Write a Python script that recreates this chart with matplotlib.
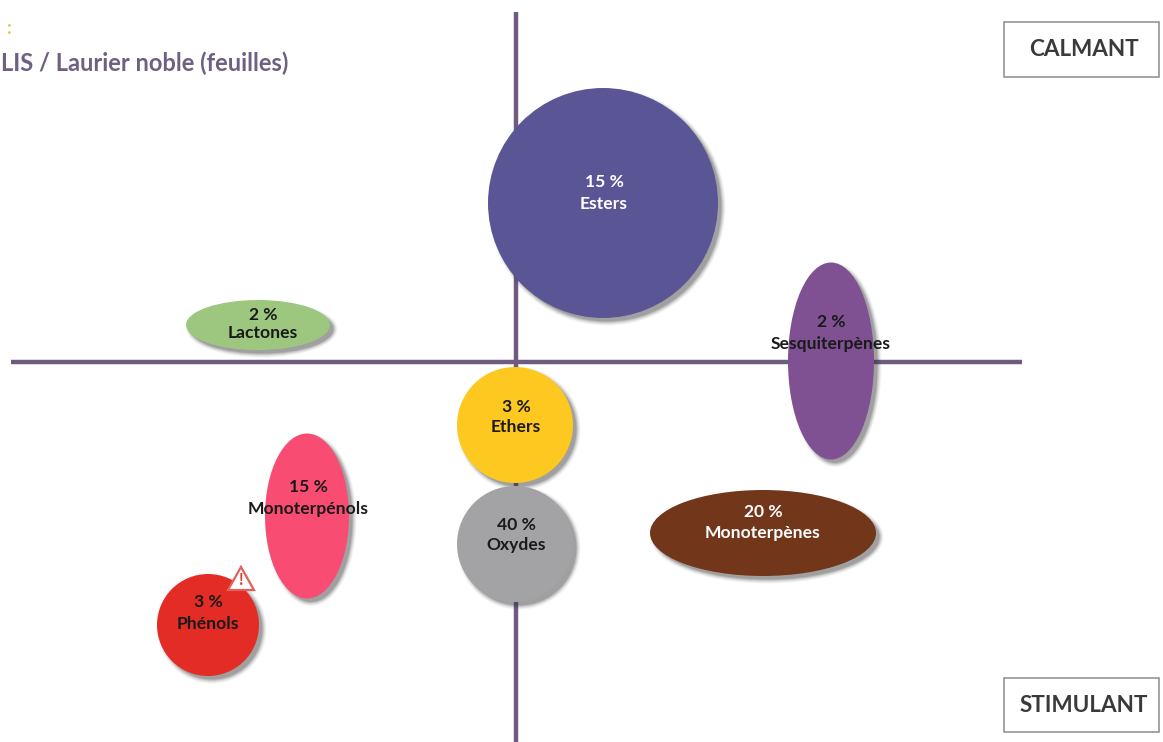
import matplotlib
matplotlib.use("Agg")
import matplotlib.pyplot as plt
from matplotlib.patches import Ellipse, Polygon, Rectangle

# families, with their share and where they sit on the map (in picture pixels)
families = ["Esters", "Lactones", "Sesquiterpènes", "Ethers", "Oxydes",
            "Monoterpènes", "Monoterpénols", "Phénols"]
percents = [15, 2, 2, 3, 40, 20, 15, 3]
center_x = [603, 258, 831, 515, 515, 763, 307, 208]
center_y = [203, 325, 361, 425, 544, 533, 516, 625]
widths = [230, 144, 86, 116, 116, 226, 84, 102]
heights = [230, 50, 197, 116, 116, 86, 165, 102]
colors = ["#5A5695", "#9DC77F", "#7F5193", "#FDC81F", "#A3A3A6",
          "#72361B", "#F84C72", "#E32C25"]
text_colors = ["white", "#1a1a1a", "#1a1a1a", "#1a1a1a", "#1a1a1a",
               "white", "#1a1a1a", "#1a1a1a"]
# labels do not always sit on the middle of the ellipse
text_x = [604, 263, 831, 516, 516, 763, 308, 208]
percent_y = [180, 313, 320, 405, 523, 510, 485, 600]
name_y = [202, 331, 342, 425, 543, 531, 507, 622]

plt.rcParams["font.family"] = ["Lato", "DejaVu Sans"]

fig = plt.figure(figsize=(11.63, 7.42), dpi=100)
ax = fig.add_axes([0, 0, 1, 1])
ax.set_xlim(0, 1163)
ax.set_ylim(742, 0)
ax.axis("off")

# axes of the map
line_color = "#6F5A80"
ax.plot([516, 516], [12, 742], color=line_color, lw=3.2, zorder=1, solid_capstyle="butt")
ax.plot([11, 1022], [362, 362], color=line_color, lw=3.2, zorder=1, solid_capstyle="butt")

for i in range(len(families)):
    # soft shadow, a few see through layers
    for grow, alpha in [(7, 0.05), (5, 0.07), (3, 0.1), (1, 0.14), (-1, 0.2)]:
        ax.add_patch(Ellipse((center_x[i] + 4, center_y[i] + 4), widths[i] + grow, heights[i] + grow,
                             color="#333333", alpha=alpha, lw=0, zorder=2))
    ax.add_patch(Ellipse((center_x[i], center_y[i]), widths[i], heights[i],
                         color=colors[i], lw=0, zorder=3))
    ax.text(text_x[i], percent_y[i] + 2, f"{percents[i]} %", ha="center", va="center",
            fontsize=12.6, fontweight="bold", color=text_colors[i], zorder=5)
    ax.text(text_x[i], name_y[i] + 2, families[i], ha="center", va="center",
            fontsize=12.6, fontweight="bold", color=text_colors[i], zorder=5)

# warning sign on the phenols
ax.add_patch(Polygon([[241, 567], [228, 590], [254, 590]], closed=True, facecolor="white",
                     edgecolor="#E0605A", lw=1.6, zorder=4))
ax.text(241, 580, "!", ha="center", va="center", fontsize=12, fontweight="bold",
        color="#D9403A", zorder=5)

# title, cut by the left edge in the source
ax.text(7, 29, ":", ha="left", va="center", fontsize=13, fontweight="bold", color="#F2C14E")
ax.text(1, 63, "LIS / Laurier noble (feuilles)", ha="left", va="center", fontsize=17,
        fontweight="bold", color="#6F5F80")

# corner boxes
for label, x0, y0, w, h in [("CALMANT", 1004, 22, 155, 55), ("STIMULANT", 1004, 678, 155, 54)]:
    ax.add_patch(Rectangle((x0, y0), w, h, facecolor="white", edgecolor="#8C8C8C", lw=1.1, zorder=2))
    ax.text(x0 + w / 2 + 2, y0 + h / 2, label, ha="center", va="center", fontsize=16.2,
            fontweight="bold", color="#3a3a3a", zorder=3)

fig.savefig("out.png", dpi=100)
